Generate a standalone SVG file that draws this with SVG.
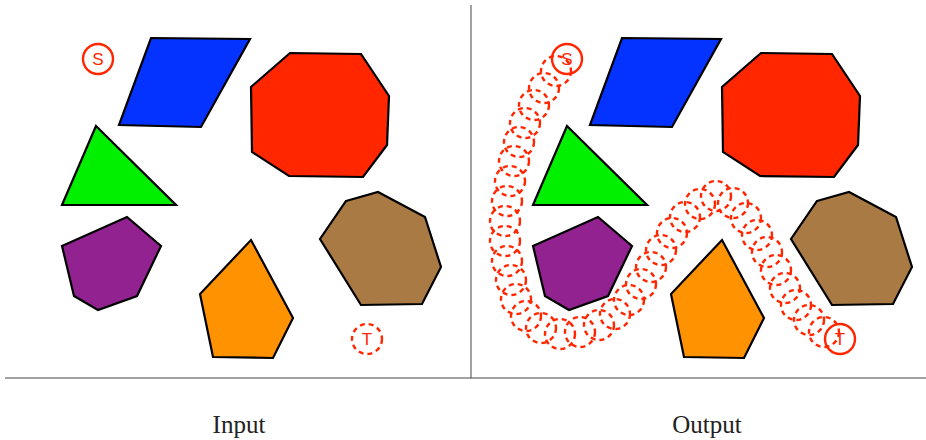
<svg xmlns="http://www.w3.org/2000/svg" xmlns:xlink="http://www.w3.org/1999/xlink" width="926" height="440" viewBox="0 0 926 440">
<style>
.ob{stroke:#000;stroke-width:2.2;stroke-linejoin:miter}
.blue{fill:#0433ff}.red{fill:#ff2600}.green{fill:#00f000}.purple{fill:#912290}.orange{fill:#ff9200}.brown{fill:#a97a44}
.st{fill:none;stroke:#ff2600;stroke-width:2.4}
.dash{fill:none;stroke:#ff2600;stroke-width:2.4;stroke-dasharray:5 4}
.lbl{font-family:"Liberation Sans",Arial,sans-serif;font-size:17px;fill:#ff2600;text-anchor:middle}
.cap{font-family:"Liberation Serif","Times New Roman",serif;font-size:25px;fill:#222;text-anchor:middle}
.rule{stroke:#444;stroke-width:1}
</style>
<defs>
<polygon id="pBlue" class="ob blue" points="151,38 250,39 201,127 119,125"/>
<polygon id="pRed" class="ob red" points="290,53 361,54 389,96 387,145 363,177 289,176 252,152 251,87"/>
<polygon id="pGreen" class="ob green" points="96,126 176,205 62,205"/>
<polygon id="pPurple" class="ob purple" points="62,246 127,217 161,246 137,296 98,310 74,296"/>
<polygon id="pOrange" class="ob orange" points="251,240 293,318 273,358 213,357 200,294"/>
<polygon id="pBrown" class="ob brown" points="346,201 378,192 425,217 441,267 422,304 361,305 320,239"/>
<circle id="ring" r="15" class="dash"/>
</defs>
<g id="frame">
<line class="rule" x1="471" y1="5" x2="471" y2="378"/>
<line class="rule" x1="5" y1="378" x2="926" y2="378"/>
</g>
<g id="input-panel">
<g id="in-blue"><use xlink:href="#pBlue"/></g>
<g id="in-red"><use xlink:href="#pRed"/></g>
<g id="in-green"><use xlink:href="#pGreen"/></g>
<g id="in-purple"><use xlink:href="#pPurple"/></g>
<g id="in-orange"><use xlink:href="#pOrange"/></g>
<g id="in-brown"><use xlink:href="#pBrown"/></g>
<g id="in-S"><circle cx="98" cy="59" r="15" class="st"/><text class="lbl" x="98" y="65">S</text></g>
<g id="in-T"><circle cx="367" cy="339" r="15" class="dash"/><text class="lbl" x="367" y="345">T</text></g>
</g>
<g id="output-panel" transform="translate(471,0)">
<g id="out-blue"><use xlink:href="#pBlue"/></g>
<g id="out-red"><use xlink:href="#pRed"/></g>
<g id="out-green"><use xlink:href="#pGreen"/></g>
<g id="out-purple"><use xlink:href="#pPurple"/></g>
<g id="out-orange"><use xlink:href="#pOrange"/></g>
<g id="out-brown"><use xlink:href="#pBrown"/></g>
</g>
<g id="connectors">
<use xlink:href="#ring" x="556" y="71"/>
<use xlink:href="#ring" x="544" y="88"/>
<use xlink:href="#ring" x="534" y="105"/>
<use xlink:href="#ring" x="525" y="123"/>
<use xlink:href="#ring" x="519" y="142"/>
<use xlink:href="#ring" x="514" y="161"/>
<use xlink:href="#ring" x="510" y="181"/>
<use xlink:href="#ring" x="507" y="201"/>
<use xlink:href="#ring" x="505" y="221"/>
<use xlink:href="#ring" x="505" y="241"/>
<use xlink:href="#ring" x="507" y="261"/>
<use xlink:href="#ring" x="511" y="280"/>
<use xlink:href="#ring" x="516" y="299"/>
<use xlink:href="#ring" x="526" y="316"/>
<use xlink:href="#ring" x="541" y="328"/>
<use xlink:href="#ring" x="560" y="334"/>
<use xlink:href="#ring" x="580" y="332"/>
<use xlink:href="#ring" x="599" y="325"/>
<use xlink:href="#ring" x="615" y="314"/>
<use xlink:href="#ring" x="629" y="300"/>
<use xlink:href="#ring" x="641" y="284"/>
<use xlink:href="#ring" x="651" y="267"/>
<use xlink:href="#ring" x="661" y="250"/>
<use xlink:href="#ring" x="672" y="233"/>
<use xlink:href="#ring" x="685" y="217"/>
<use xlink:href="#ring" x="700" y="204"/>
<use xlink:href="#ring" x="716" y="196"/>
<use xlink:href="#ring" x="733" y="203"/>
<use xlink:href="#ring" x="746" y="218"/>
<use xlink:href="#ring" x="757" y="235"/>
<use xlink:href="#ring" x="767" y="252"/>
<use xlink:href="#ring" x="776" y="270"/>
<use xlink:href="#ring" x="785" y="288"/>
<use xlink:href="#ring" x="796" y="305"/>
<use xlink:href="#ring" x="809" y="320"/>
<use xlink:href="#ring" x="824" y="332"/>
</g>
<g id="out-S"><circle cx="567" cy="59" r="15" class="st"/><text class="lbl" x="567" y="65">S</text></g>
<g id="out-T"><circle cx="840" cy="339" r="15" class="st"/><text class="lbl" x="840" y="345">T</text></g>
<g id="captions">
<text class="cap" x="239" y="433">Input</text>
<text class="cap" x="707" y="433">Output</text>
</g>
</svg>
